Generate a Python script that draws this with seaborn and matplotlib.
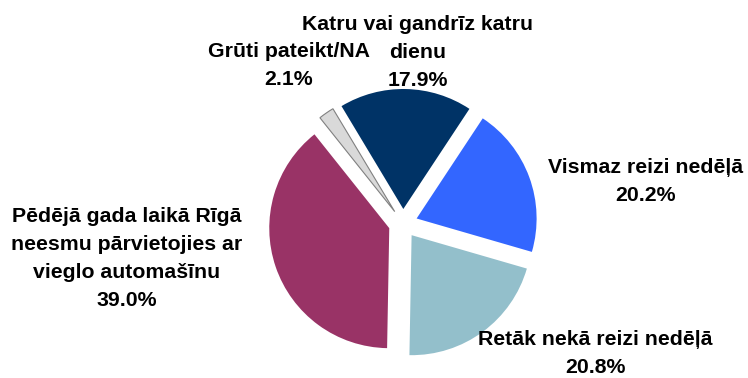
import matplotlib
matplotlib.use("Agg")
import matplotlib.pyplot as plt
import seaborn as sns

# Survey answers, listed clockwise starting from the top slice
categories = [
    "Katru vai gandrīz katru\ndienu",
    "Vismaz reizi nedēļā",
    "Retāk nekā reizi nedēļā",
    "Pēdējā gada laikā Rīgā\nneesmu pārvietojies ar\nvieglo automašīnu",
    "Grūti pateikt/NA",
]
shares = [17.9, 20.2, 20.8, 39.0, 2.1]
slice_colors = ["#003366", "#3366FF", "#93BFCB", "#993366", "#D9D9D9"]

sns.set_theme(style="white")
plt.rcParams["font.family"] = ["Liberation Sans", "DejaVu Sans"]
palette = sns.color_palette(slice_colors)

W, H = 748, 378
fig = plt.figure(figsize=(W / 100, H / 100), dpi=100)
ax = fig.add_axes([0, 0, 1, 1])

wedges, _ = ax.pie(
    shares,
    colors=palette,
    startangle=121,
    counterclock=False,
    explode=[14.5] * len(shares),
    radius=120,
    center=(403, H - 223.5),
    wedgeprops=dict(linewidth=0),
)
# the small "hard to say" slice keeps a thin grey outline
wedges[-1].set_edgecolor("#808080")
wedges[-1].set_linewidth(0.8)

ax.set_xlim(0, W)
ax.set_ylim(0, H)
ax.set_aspect("equal")
ax.axis("off")

# label centre x and first baseline (pixels from the top), one line per text
label_pos = [(418, 30), (646, 173), (595, 345), (127, 222), (289, 57)]
line_step = 28
for text, value, (x, y0) in zip(categories, shares, label_pos):
    lines = text.split("\n") + [f"{value:.1f}%"]
    for i, line in enumerate(lines):
        ax.text(x, H - (y0 + i * line_step), line, ha="center", va="baseline",
                fontsize=15.3, fontweight="bold", color="black")

fig.savefig("out.png", dpi=100)
